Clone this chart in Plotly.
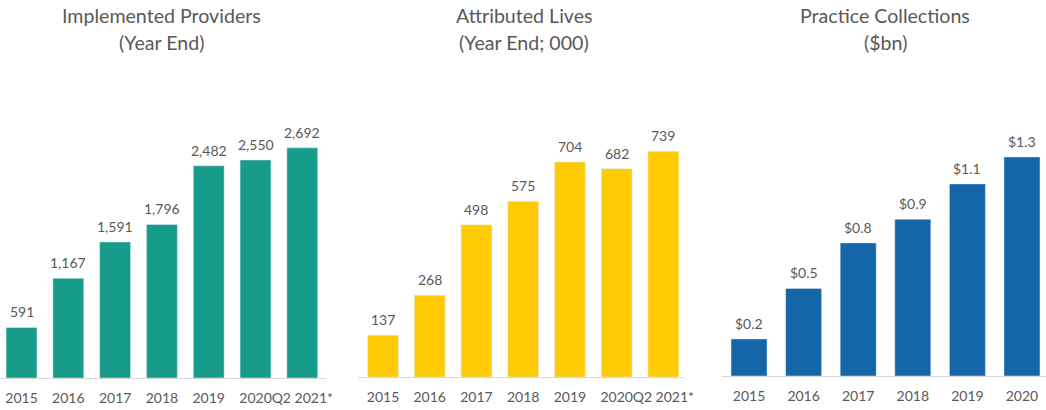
import plotly.graph_objects as go

W, H = 1046, 410

cats_a = ["2015", "2016", "2017", "2018", "2019", "2020", "Q2 2021*"]
providers = [591, 1167, 1591, 1796, 2482, 2550, 2692]
lives = [137, 268, 498, 575, 704, 682, 739]
cats_c = ["2015", "2016", "2017", "2018", "2019", "2020"]
collections = [0.22, 0.52, 0.79, 0.93, 1.14, 1.30]

TEAL = "#179B8A"
YELLOW = "#FFCB05"
BLUE = "#1565A9"
GRAY = "#595959"
FONT = "Lato"

fig = go.Figure()
fig.add_trace(go.Bar(x=cats_a, y=providers, marker_color=TEAL, xaxis="x", yaxis="y", hoverinfo="skip"))
fig.add_trace(go.Bar(x=cats_a, y=lives, marker_color=YELLOW, xaxis="x2", yaxis="y2", hoverinfo="skip"))
fig.add_trace(go.Bar(x=cats_c, y=collections, marker_color=BLUE, xaxis="x3", yaxis="y3", hoverinfo="skip"))

annotations = []
def labels(cats, vals, fmt, xref, yref):
    for i, v in enumerate(vals):
        annotations.append(dict(x=i, y=v, xref=xref, yref=yref, text=fmt(v), showarrow=False,
                                yanchor="bottom", yshift=5, font=dict(family=FONT, size=14, color=GRAY)))

labels(cats_a, providers, lambda v: f"{v:,}", "x", "y")
labels(cats_a, lives, lambda v: f"{v:,}", "x2", "y2")
labels(cats_c, collections, lambda v: f"${v:.1f}", "x3", "y3")

titles = [
    (161, "Implemented Providers", "(Year End)"),
    (524, "Attributed Lives", "(Year End; 000)"),
    (885, "Practice Collections", "($bn)"),
]
for cx, t1, t2 in titles:
    for i, t in enumerate([t1, t2]):
        annotations.append(dict(x=cx / W, y=1 - (15 + 28 * i) / H, xref="paper", yref="paper", text=t,
                                showarrow=False, xanchor="center", yanchor="middle",
                                font=dict(family=FONT, size=19.6, color=GRAY)))

def xax(d0, d1, r0, r1):
    return dict(domain=[d0 / W, d1 / W], range=[r0, r1], type="category", showline=True,
                linecolor="#D9D9D9", linewidth=1, showgrid=False, zeroline=False, ticks="",
                ticklabelstandoff=7, tickangle=0, automargin=False,
                tickfont=dict(family=FONT, size=14, color=GRAY), fixedrange=True)

def yax(base, top, rmax, anchor):
    return dict(domain=[(H - base) / H, (H - top) / H], range=[0, rmax], visible=False,
                showgrid=False, zeroline=False, anchor=anchor, fixedrange=True, automargin=False)

fig.update_layout(
    width=W, height=H, margin=dict(l=0, r=0, t=0, b=0),
    paper_bgcolor="white", plot_bgcolor="white", showlegend=False, bargap=0.34,
    xaxis=xax(0, 325.7, -0.46, 6.5),
    xaxis2=dict(xax(358, 683, -0.535, 6.42), anchor="y2"),
    xaxis3=dict(xax(722, 1046, -0.495, 5.44), anchor="y3"),
    yaxis=yax(378, 100, 278 / 0.0855, "x"),
    yaxis2=yax(377, 100, 277 / 0.3055, "x2"),
    yaxis3=yax(376, 100, 276 / 168.5, "x3"),
    annotations=annotations,
)
fig.write_html("out.html")
